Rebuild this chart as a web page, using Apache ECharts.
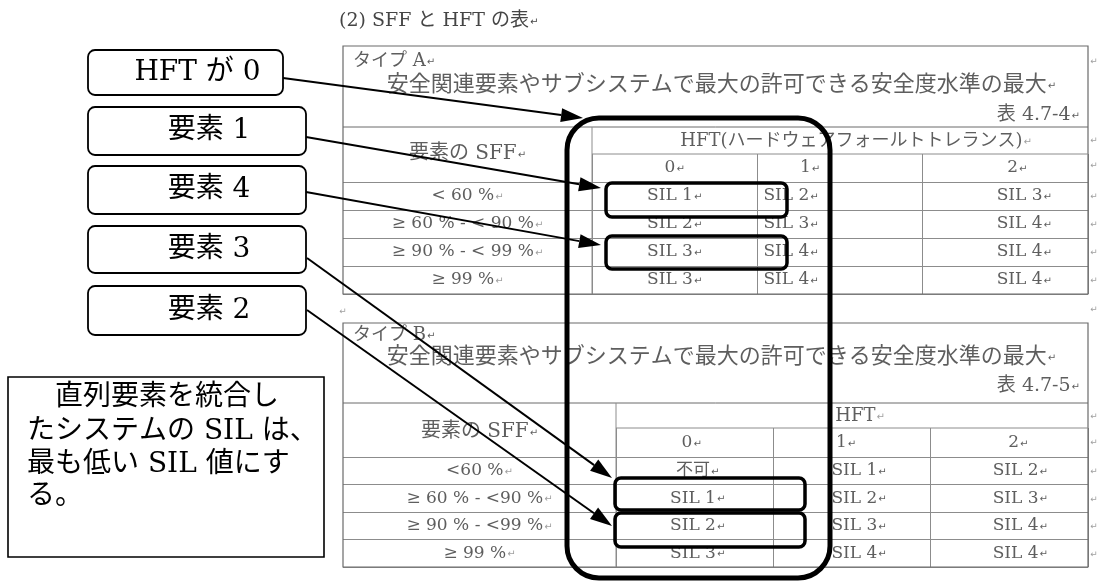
<!DOCTYPE html>
<html><head><meta charset="utf-8">
<script src="https://cdn.jsdelivr.net/npm/echarts@6/dist/echarts.min.js"></script>
<style>html,body{margin:0;padding:0;background:#fff}#c{width:1097px;height:582px}</style>
</head><body><div id="c"></div>
<script>
// ---------------- data ----------------
const titleText = '(2) SFF と HFT の表';
const hftLevels = ['0', '1', '2'];
const sffHeader = '要素の SFF';
const captionText = '安全関連要素やサブシステムで最大の許可できる安全度水準の最大';
const typeA = 'タイプ A';
const typeB = 'タイプ B';
const tableNoA = '表 4.7-4';
const tableNoB = '表 4.7-5';
const hftHeaderA = 'HFT(ハードウェアフォールトトレランス)';
const hftHeaderB = 'HFT';
const sffRowsA = ['< 60 %', '≥ 60 % - < 90 %', '≥ 90 % - < 99 %', '≥ 99 %'];
const sffRowsB = ['<60 %', '≥ 60 % - <90 %', '≥ 90 % - <99 %', '≥ 99 %'];
const silA_hft0 = ['SIL 1', 'SIL 2', 'SIL 3', 'SIL 3'];
const silA_hft1 = ['SIL 2', 'SIL 3', 'SIL 4', 'SIL 4'];
const silA_hft2 = ['SIL 3', 'SIL 4', 'SIL 4', 'SIL 4'];
const silB_hft0 = ['不可', 'SIL 1', 'SIL 2', 'SIL 3'];
const silB_hft1 = ['SIL 1', 'SIL 2', 'SIL 3', 'SIL 4'];
const silB_hft2 = ['SIL 2', 'SIL 3', 'SIL 4', 'SIL 4'];
const calloutLabels = ['HFT が 0', '要素 1', '要素 4', '要素 3', '要素 2'];
const noteLines = ['　直列要素を統合し', 'たシステムの SIL は、', '最も低い SIL 値にす', 'る。'];

// ---------------- layout / style ----------------
const FONT = '"DejaVu Serif", "Noto Sans CJK JP", serif';
const TXT = '#5e5e5e';
const LINE = '#8c8c8c';
const FRAME = '#6a6a6a';
const MARK = '#a0a0a0';
const rich = { m: { fontSize: 10, color: MARK, fontFamily: '"DejaVu Sans", sans-serif', padding: [3, 0, 0, 1] } };
const mk = t => t + '{m|↵}';

const LA = { left: 343, right: 1088, top: 46, capBottom: 127, hftLine: 154, headBottom: 182, bottom: 294, sffRight: 592,
  typeY: 61, capY: 85, noY: 115, hftGap: 41, levelRowH: 28, sffY: 154,
  cellShift: [0, -49, 19], headShift: [0, -30, 12], hftShift: 16,
  marks: [62, 141, 166, 197, 225, 253, 281] };
const LB = { left: 343, right: 1088, top: 323, capBottom: 403, hftLine: 428, headBottom: 457, bottom: 567, sffRight: 616,
  typeY: 335, capY: 357, noY: 386, hftGap: 41, levelRowH: 29, sffY: 432,
  cellShift: [3, 7, 11], headShift: [-3, -6, 9], hftShift: 8,
  marks: [310, 417, 443, 472, 500, 527, 555] };

const callouts = [
  { box: [88, 50, 195, 45], from: [283, 78], to: [583, 118] },
  { box: [88, 107, 218, 48], from: [306, 137], to: [601, 188] },
  { box: [88, 166, 218, 48], from: [306, 192], to: [601, 245] },
  { box: [88, 226, 218, 47], from: [307, 258], to: [612, 478] },
  { box: [88, 286, 218, 49], from: [307, 310], to: [612, 526] }
];
const bigRect = [567, 118, 263, 460];
const highlights = [[606, 183, 181, 34], [606, 236, 181, 33], [615, 478, 190, 32], [615, 513, 190, 34]];
const noteBox = [8, 377, 316, 180];
const noteY = [398, 432, 465, 497];

// ---------------- build ----------------
function axesFor(idx, rows, lay, hftName) {
  const sffW = lay.sffRight - lay.left;
  return {
    x: {
      type: 'category', gridIndex: idx, data: hftLevels, position: 'top', boundaryGap: true,
      axisLine: { show: false }, axisLabel: { show: false },
      axisTick: { show: true, interval: 0, length: lay.levelRowH, lineStyle: { color: LINE, width: 1 } },
      splitLine: { show: true, interval: 0, lineStyle: { color: LINE, width: 1 } },
      name: mk(hftName), nameLocation: 'middle', nameGap: lay.hftGap,
      nameTextStyle: { color: TXT, fontSize: 18, fontFamily: FONT, verticalAlign: 'middle', rich,
        padding: [0, 0, 0, lay.hftShift * 2] }
    },
    y: {
      type: 'category', gridIndex: idx, data: rows, inverse: true, boundaryGap: true,
      axisLine: { show: false },
      axisTick: { show: true, interval: 0, length: sffW, lineStyle: { color: LINE, width: 1 } },
      splitLine: { show: true, interval: 0, lineStyle: { color: LINE, width: 1 } },
      axisLabel: { interval: 0, align: 'center', margin: sffW / 2, color: TXT, fontSize: 17, fontFamily: FONT,
        formatter: v => mk(v), rich }
    }
  };
}

function cellSeries(idx, cols, lay) {
  const items = [];
  cols.forEach((col, c) => col.forEach((t, r) => items.push({ c, r, text: t, header: false })));
  hftLevels.forEach((h, c) => items.push({ c, r: 0, text: h, header: true }));
  return {
    type: 'custom', xAxisIndex: idx, yAxisIndex: idx, clip: false, z: 5, silent: true,
    data: items.map(d => [d.c, d.r]),
    renderItem(params, api) {
      const d = items[params.dataIndex];
      const p = api.coord([api.value(0), api.value(1)]);
      const h = api.size([1, 1])[1];
      const x = p[0] + (d.header ? lay.headShift[d.c] : lay.cellShift[d.c]);
      const y = d.header ? p[1] - h / 2 - lay.levelRowH / 2 : p[1];
      return { type: 'text', x, y, style: { text: mk(d.text), rich, fill: TXT, fontSize: 17, fontFamily: FONT,
        align: 'center', verticalAlign: 'middle' } };
    }
  };
}

function tableFrame(lay, typeTxt, noTxt) {
  const els = [];
  const ln = (x1, y1, x2, y2, c) => els.push({ type: 'line', shape: { x1, y1, x2, y2 }, style: { stroke: c || LINE, lineWidth: 1 }, z: 1 });
  els.push({ type: 'rect', shape: { x: lay.left, y: lay.top, width: lay.right - lay.left, height: lay.bottom - lay.top },
    style: { fill: 'none', stroke: FRAME, lineWidth: 1.2 }, z: 1 });
  ln(lay.left, lay.capBottom, lay.right, lay.capBottom, FRAME);
  ln(lay.sffRight, lay.hftLine, lay.right, lay.hftLine);
  ln(lay.sffRight, lay.capBottom, lay.sffRight, lay.bottom);
  const txt = (text, x, y, size, align) => els.push({ type: 'text', x, y, z: 6,
    style: { text: mk(text), rich, fill: TXT, fontSize: size, fontFamily: FONT, align, verticalAlign: 'middle' } });
  txt(typeTxt, lay.left + 10, lay.typeY, 18, 'left');
  txt(captionText, (lay.left + lay.right) / 2 + 6, lay.capY, 22, 'center');
  txt(noTxt, lay.right - 8, lay.noY, 19, 'right');
  txt(sffHeader, (lay.left + lay.sffRight) / 2, lay.sffY, 20, 'center');
  lay.marks.forEach(y => els.push({ type: 'text', x: lay.right + 6, y, z: 6,
    style: { text: '↵', fill: MARK, fontSize: 9, fontFamily: '"DejaVu Sans", sans-serif', align: 'center', verticalAlign: 'middle' } }));
  return els;
}

function arrow(a, b) {
  const [x1, y1] = a, [x2, y2] = b;
  const ang = Math.atan2(y2 - y1, x2 - x1), len = 22, hw = 7;
  const bx = x2 - len * Math.cos(ang), by = y2 - len * Math.sin(ang);
  const px = -Math.sin(ang) * hw, py = Math.cos(ang) * hw;
  return [
    { type: 'line', shape: { x1, y1, x2: bx, y2: by }, style: { stroke: '#000', lineWidth: 2 }, z: 110 },
    { type: 'polygon', shape: { points: [[x2, y2], [bx + px, by + py], [bx - px, by - py]] }, style: { fill: '#000' }, z: 110 }
  ];
}

const A = axesFor(0, sffRowsA, LA, hftHeaderA);
const B = axesFor(1, sffRowsB, LB, hftHeaderB);

const graphics = [];
graphics.push({ type: 'text', x: 339, y: 21, z: 6,
  style: { text: mk(titleText), rich, fill: '#454545', fontSize: 19, fontFamily: FONT, align: 'left', verticalAlign: 'middle' } });
graphics.push(...tableFrame(LA, typeA, tableNoA));
graphics.push(...tableFrame(LB, typeB, tableNoB));
graphics.push({ type: 'text', x: 343, y: 312, z: 6,
  style: { text: '↵', fill: MARK, fontSize: 9, fontFamily: '"DejaVu Sans", sans-serif', align: 'center', verticalAlign: 'middle' } });

callouts.forEach((c, i) => {
  const [x, y, w, h] = c.box;
  graphics.push({ type: 'rect', shape: { x, y, width: w, height: h, r: 7 }, style: { fill: '#fff', stroke: '#000', lineWidth: 1.8 }, z: 105 });
  graphics.push({ type: 'text', x: x + w / 2 + 12, y: y + h / 2, z: 106,
    style: { text: calloutLabels[i], fill: '#000', fontSize: 28, fontFamily: FONT, align: 'center', verticalAlign: 'middle' } });
  graphics.push(...arrow(c.from, c.to));
});

graphics.push({ type: 'rect', shape: { x: bigRect[0], y: bigRect[1], width: bigRect[2], height: bigRect[3], r: 32 },
  style: { fill: 'none', stroke: '#000', lineWidth: 5 }, z: 120 });
highlights.forEach(h => graphics.push({ type: 'rect', shape: { x: h[0], y: h[1], width: h[2], height: h[3], r: 6 },
  style: { fill: 'none', stroke: '#000', lineWidth: 3.5 }, z: 121 }));

graphics.push({ type: 'rect', shape: { x: noteBox[0], y: noteBox[1], width: noteBox[2], height: noteBox[3] },
  style: { fill: '#fff', stroke: '#000', lineWidth: 1.6 }, z: 105 });
noteLines.forEach((t, i) => graphics.push({ type: 'text', x: noteBox[0] + 19, y: noteY[i], z: 106,
  style: { text: t, fill: '#000', fontSize: 28, fontFamily: FONT, align: 'left', verticalAlign: 'middle' } }));

const chart = echarts.init(document.getElementById('c'), null, { renderer: 'canvas' });
chart.setOption({
  animation: false,
  backgroundColor: '#fff',
  grid: [
    { left: LA.sffRight, top: LA.headBottom, width: LA.right - LA.sffRight, height: LA.bottom - LA.headBottom,
      containLabel: false, outerBoundsMode: 'none', show: false },
    { left: LB.sffRight, top: LB.headBottom, width: LB.right - LB.sffRight, height: LB.bottom - LB.headBottom,
      containLabel: false, outerBoundsMode: 'none', show: false }
  ],
  xAxis: [A.x, B.x],
  yAxis: [A.y, B.y],
  series: [
    cellSeries(0, [silA_hft0, silA_hft1, silA_hft2], LA),
    cellSeries(1, [silB_hft0, silB_hft1, silB_hft2], LB)
  ],
  graphic: { elements: graphics }
});
</script>
</body></html>
